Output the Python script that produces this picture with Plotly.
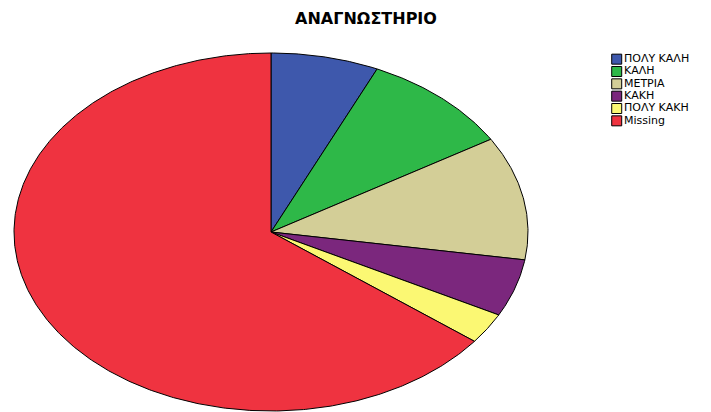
import math
import plotly.graph_objects as go

# Reading-room rating counts (SPSS-style pie, "Missing" included)
categories = ["ΠΟΛΥ ΚΑΛΗ", "ΚΑΛΗ", "ΜΕΤΡΙΑ", "ΚΑΚΗ", "ΠΟΛΥ ΚΑΚΗ", "Missing"]
counts = [17, 24, 28, 13, 7, 162]
colors = ["#3E58AC", "#2EB848", "#D3CE97", "#7B277D", "#FBF873", "#EF3340"]

W, H = 711, 412
CX, CY, RX, RY = 271, 232, 257, 179  # pie centre and radii in pixels

fig = go.Figure()

total = sum(counts)
start = 0.0
for name, value, color in zip(categories, counts, colors):
    end = start + value / total
    n = max(4, int((end - start) * 720))
    xs, ys = [0.0], [0.0]
    for i in range(n + 1):
        t = 2 * math.pi * (start + (end - start) * i / n)
        xs.append(math.sin(t))
        ys.append(math.cos(t))
    xs.append(0.0)
    ys.append(0.0)
    fig.add_trace(go.Scatter(
        x=xs, y=ys, mode="lines", fill="toself", fillcolor=color,
        line=dict(color="black", width=1), name=name,
        showlegend=False, hoverinfo="name",
    ))
    start = end

# Legend drawn as square markers with labels on a small side axis
fig.add_trace(go.Scatter(
    x=[0] * len(categories), y=list(range(len(categories)))[::-1],
    mode="markers+text", text=categories, textposition="middle right",
    marker=dict(symbol="square", size=10, color=colors,
                line=dict(color="black", width=1)),
    textfont=dict(family="DejaVu Sans", size=11, color="black"),
    xaxis="x2", yaxis="y2", showlegend=False, hoverinfo="skip",
    cliponaxis=False,
))

fig.update_layout(
    width=W, height=H,
    margin=dict(l=0, r=0, t=0, b=0),
    paper_bgcolor="white", plot_bgcolor="white",
    showlegend=False,
    title=dict(text="<b>ΑΝΑΓΝΩΣΤΗΡΙΟ</b>", x=366 / W, xanchor="center",
               y=1 - 18 / H, yanchor="middle", yref="container",
               font=dict(family="DejaVu Sans", size=16, color="black")),
    xaxis=dict(range=[-CX / RX, (W - CX) / RX], visible=False, fixedrange=True),
    yaxis=dict(range=[-(H - CY) / RY, CY / RY], visible=False, fixedrange=True),
    xaxis2=dict(domain=[612 / W, 1], range=[-0.5, 10], visible=False,
                anchor="y2", fixedrange=True),
    yaxis2=dict(domain=[1 - 127 / H, 1 - 53 / H], range=[-0.5, 5.5],
                visible=False, anchor="x2", fixedrange=True),
)

fig.write_html("out.html")
